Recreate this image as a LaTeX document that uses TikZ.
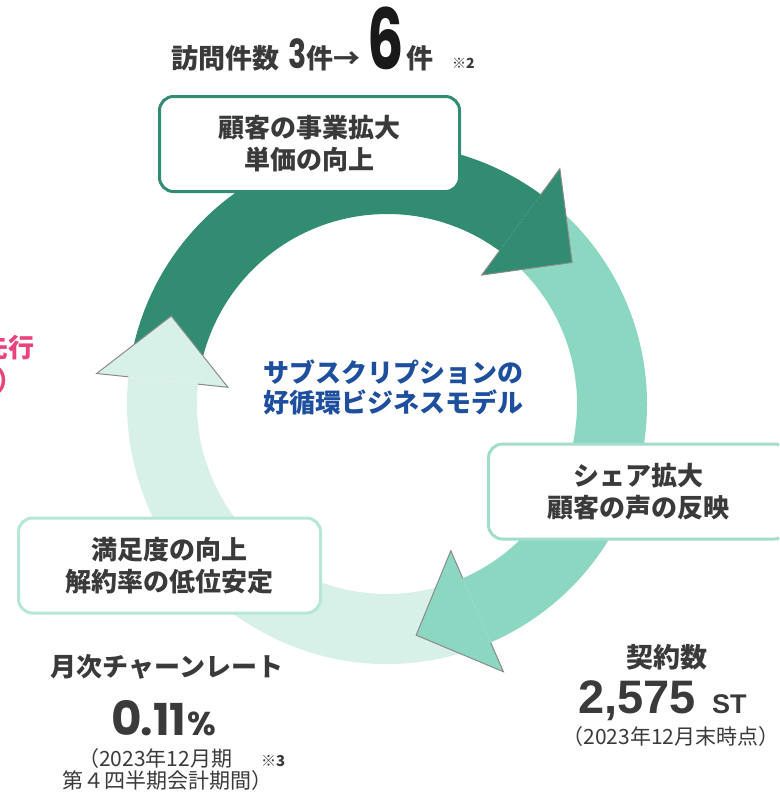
\documentclass[tikz,border=0pt]{standalone}
\usepackage{fontspec}
\setmainfont{Noto Sans CJK JP}
\newfontfamily\numfont{Poppins}
\newfontfamily\arfont{Liberation Sans}
\usetikzlibrary{calc}
\definecolor{dkg}{HTML}{318C71}
\definecolor{mdg}{HTML}{8CD7C1}
\definecolor{ltg}{HTML}{D7F1E8}
\definecolor{rbord}{HTML}{A2DCCA}
\definecolor{lbord}{HTML}{B6E6D7}
\definecolor{tgray}{HTML}{3A3A3A}
\definecolor{tblue}{HTML}{1D4F9E}
\definecolor{tpink}{HTML}{E8437C}
\definecolor{hline}{HTML}{8A8A8A}
\newcommand{\ringshaft}[3]{%
  \fill[#1] ($(C)+(#2:260pt)$) arc[start angle=#2,end angle=#3,radius=260pt]
    -- ($(C)+(#3:190pt)$) arc[start angle=#3,end angle=#2,radius=190pt] -- cycle;}
\newcommand{\ringhead}[3]{%
  \fill[#1] ($(C)+(#2:292pt)$) -- ($(C)+(#3:233pt)$) -- ($(C)+(#2:160pt)$) -- cycle;
  \draw[headline] ($(C)+(#2:260pt)$) -- ($(C)+(#2:292pt)$) -- ($(C)+(#3:233pt)$)
    -- ($(C)+(#2:160pt)$) -- ($(C)+(#2:190pt)$);}
\tikzset{
  headline/.style={draw=hline,line width=1pt,line join=miter},
  rbox/.style={draw,fill=white,line width=3pt,rounded corners=14pt,
    minimum width=300pt,minimum height=95pt,align=center,text=tgray,
    font=\fontsize{26}{32}\selectfont\bfseries,inner sep=0pt},
  txt/.style={inner sep=0pt,text=tgray},
}
\begin{document}
\begin{tikzpicture}[x=1pt,y=1pt]
\useasboundingbox (0,0) rectangle (779,-792);
\clip (0,0) rectangle (779,-792);
\coordinate (C) at (387,-404);
% shafts
\ringshaft{dkg}{170}{53.7}
\ringshaft{mdg}{50}{-66.5}
\ringshaft{ltg}{-70}{-186}
% heads
\ringhead{dkg}{53.7}{37.4}
\ringhead{mdg}{-66.5}{-82.8}
\ringhead{ltg}{174}{157.8}
% boxes
\node[rbox,draw=dkg] (btop) at (309.5,-144) {顧客の事業拡大\\単価の向上};
\node[rbox,draw=rbord] (bright) at (638.5,-491.5) {シェア拡大\\顧客の声の反映};
\node[rbox,draw=lbord,minimum width=302pt] (bleft) at (169.5,-565.5) {満足度の向上\\解約率の低位安定};
% center text
\node[inner sep=0pt,text=tblue,align=center,font=\fontsize{26}{30}\selectfont\bfseries] (ctr) at (393.5,-387) {サブスクリプションの\\好循環ビジネスモデル};
% top line
\node[txt,anchor=base west,font=\fontsize{27}{27}\selectfont\bfseries] (t1) at (171,-68) {訪問件数};
\node[txt,anchor=base west,font=\numfont\fontsize{40}{40}\selectfont\bfseries] (t2) at (288,-68) {\scalebox{0.75}[1]{3}};
\node[txt,anchor=base west,font=\fontsize{27}{27}\selectfont\bfseries] (t3) at (306,-68) {件→};
\node[txt,anchor=base west,text=black!90,font=\numfont\fontsize{84}{84}\selectfont\bfseries] (t4) at (367,-70) {\scalebox{0.68}[1]{6}};
\node[txt,anchor=base west,font=\fontsize{27}{27}\selectfont\bfseries] (t5) at (406,-68) {件};
\node[txt,anchor=base west,font=\fontsize{14}{14}\selectfont\bfseries] (t6) at (452,-68) {※2};
% clipped pink text
\node[anchor=base east,inner sep=0pt,text=tpink,font=\fontsize{26}{26}\selectfont\bfseries] (p1) at (35,-357) {先行};
\node[anchor=base west,inner sep=0pt,text=tpink,font=\fontsize{26}{26}\selectfont\bfseries] (p2) at (-4,-390) {）};
% bottom left
\node[txt,font=\fontsize{26}{26}\selectfont\bfseries] (churn) at (167,-667) {月次チャーンレート};
\node[txt,anchor=base west,text depth=0pt,font=\numfont\bfseries] (z0) at (111,-735)
  {\fontsize{47}{47}\selectfont 0\kern-1pt\fontsize{44}{44}\selectfont .11\kern1pt\fontsize{33}{33}\selectfont\%};
\node[txt,anchor=base west,font=\fontsize{21}{21}\selectfont] (n1) at (78,-766) {（2023年12月期};
\node[txt,anchor=base west,font=\fontsize{15}{15}\selectfont\bfseries] (n2) at (261,-766) {※3};
\node[txt,anchor=base west,font=\fontsize{21}{21}\selectfont] (n3) at (62,-788) {第４四半期会計期間）};
% bottom right
\node[txt,font=\fontsize{27}{27}\selectfont\bfseries] (cnt) at (667,-657) {契約数};
\node[txt,anchor=base west,font=\arfont\fontsize{47}{47}\selectfont\bfseries] (c1) at (578,-713) {2,575};
\node[txt,anchor=base west,font=\arfont\fontsize{27}{27}\selectfont\bfseries] (c2) at (712,-713) {ST};
\node[txt,font=\fontsize{21}{21}\selectfont] (c3) at (671,-737) {（2023年12月末時点）};
\end{tikzpicture}
\end{document}
